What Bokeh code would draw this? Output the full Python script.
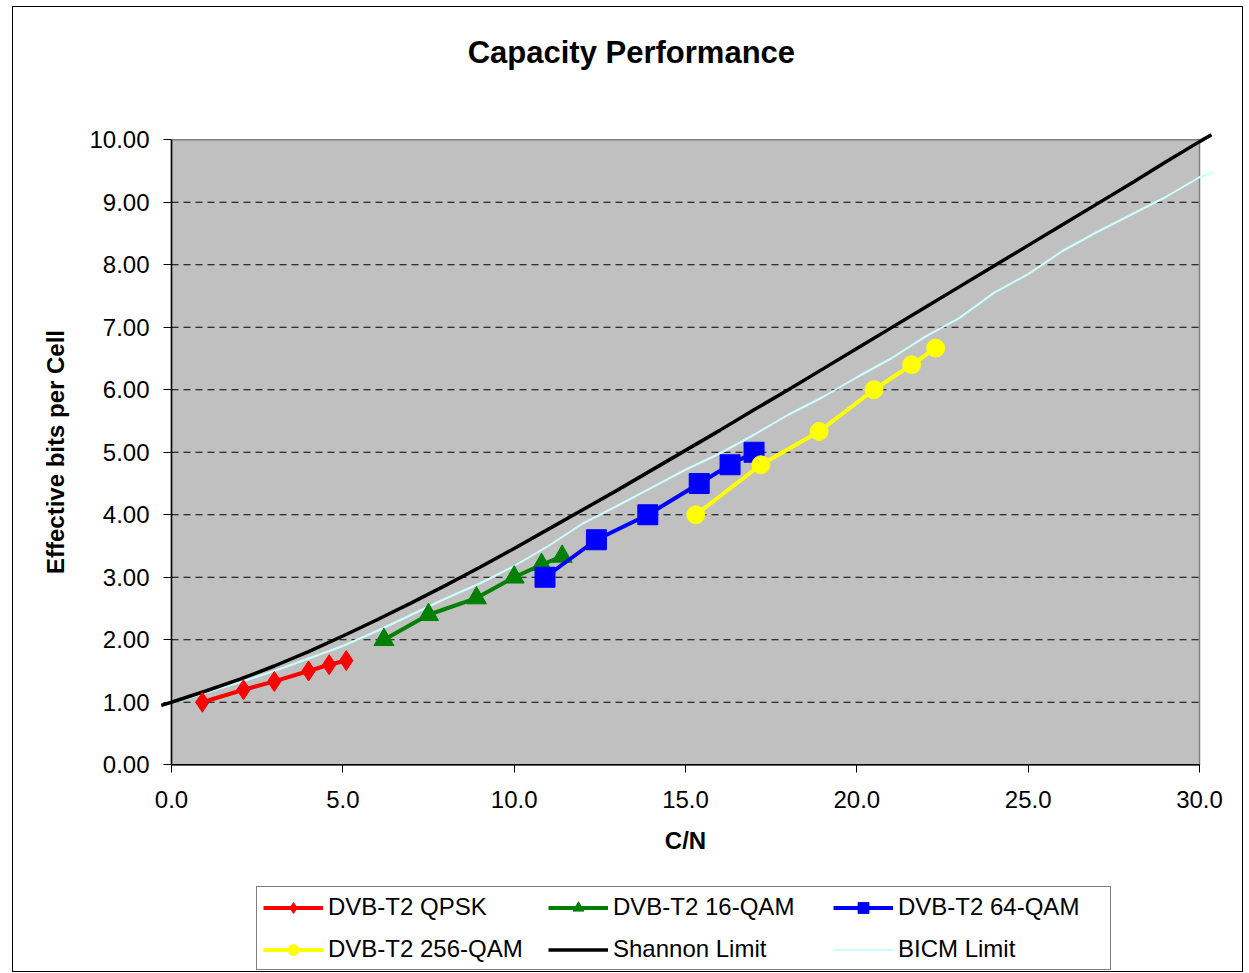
from bokeh.plotting import figure
from bokeh.models import (Range1d, FixedTicker, NumeralTickFormatter, Legend, LegendItem,
                          Label)
from bokeh.embed import file_html
from bokeh.resources import INLINE

TITLE = "Capacity Performance"
X_LABEL = "C/N"
Y_LABEL = "Effective bits per Cell"
X_TICKS = [0, 5, 10, 15, 20, 25, 30]
Y_TICKS = [0, 1, 2, 3, 4, 5, 6, 7, 8, 9, 10]
X_MAX = 30
Y_MAX = 10

# DVB-T2 measured points (C/N in dB, effective bits per cell)
QPSK_CN = [0.9, 2.1, 3.0, 4.0, 4.6, 5.1]
QPSK_BITS = [1.0, 1.2, 1.333, 1.5, 1.6, 1.667]
QAM16_CN = [6.2, 7.5, 8.9, 10.0, 10.8, 11.4]
QAM16_BITS = [2.0, 2.4, 2.667, 3.0, 3.2, 3.333]
QAM64_CN = [10.9, 12.4, 13.9, 15.4, 16.3, 17.0]
QAM64_BITS = [3.0, 3.6, 4.0, 4.5, 4.8, 5.0]
QAM256_CN = [15.3, 17.2, 18.9, 20.5, 21.6, 22.3]
QAM256_BITS = [4.0, 4.8, 5.333, 6.0, 6.4, 6.667]

SHANNON_CN = [-0.3, 0, 1, 2, 3, 4, 5, 6, 7, 8, 9, 10, 11, 12, 13, 14, 15, 16, 17, 18, 19,
              20, 21, 22, 23, 24, 25, 26, 27, 28, 29, 30, 30.35]
SHANNON_BITS = [0.95, 1.00, 1.18, 1.37, 1.58, 1.81, 2.06, 2.32, 2.59, 2.87, 3.16, 3.46,
                3.77, 4.08, 4.39, 4.71, 5.03, 5.35, 5.68, 6.00, 6.33, 6.66,
                6.99, 7.32, 7.65, 7.98, 8.31, 8.64, 8.97, 9.30, 9.64, 9.97, 10.08]
BICM_CN = [-0.3, 0, 1, 2, 3, 4, 5, 6, 7, 8, 9, 10, 11, 12, 13, 14, 15, 16, 17, 18, 19,
           20, 21, 22, 23, 24, 25, 26, 27, 28, 29, 30, 30.4]
BICM_BITS = [0.94, 0.98, 1.15, 1.32, 1.50, 1.70, 1.90, 2.14, 2.40, 2.66, 2.90, 3.18,
             3.50, 3.86, 4.14, 4.43, 4.72, 4.98, 5.28, 5.60, 5.88, 6.20,
             6.50, 6.85, 7.15, 7.55, 7.85, 8.22, 8.52, 8.80, 9.08, 9.40, 9.48]

FONT = "Liberation Sans"

# the frame spans the whole canvas; the plot area (0..30, 0..10) is drawn inside it
p = figure(width=1231, height=966, output_backend="svg", toolbar_location=None,
           x_range=Range1d(-4.611, 31.313), y_range=Range1d(-3.34, 12.116),
           min_border_left=0, min_border_right=0, min_border_top=0,
           min_border_bottom=0)
p.background_fill_color = "white"
p.border_fill_color = "white"
p.outline_line_color = None
p.xgrid.visible = False
p.ygrid.visible = False
p.styles = {"border": "1px solid black", "margin-left": "12px", "margin-top": "6px"}

# plot area
p.quad(left=[0], right=[X_MAX], bottom=[0], top=[Y_MAX],
       fill_color="#C0C0C0", line_color="#808080", line_width=1.5)
grid_y = Y_TICKS[1:-1]
p.segment(x0=[0] * len(grid_y), x1=[X_MAX] * len(grid_y), y0=grid_y, y1=grid_y,
          line_color="black", line_dash="7 5", line_width=1)

# series
r_bicm = p.line(BICM_CN, BICM_BITS, line_color="#CCFFFF", line_width=2)
r_sh = p.line(SHANNON_CN, SHANNON_BITS, line_color="black", line_width=3.5)

r1l = p.line(QPSK_CN, QPSK_BITS, line_color="red", line_width=4)
r1m = p.scatter(QPSK_CN, QPSK_BITS, marker="diamond", size=20,
                fill_color="red", line_color="red")
r2l = p.line(QAM16_CN, QAM16_BITS, line_color="green", line_width=4)
r2m = p.scatter(QAM16_CN, QAM16_BITS, marker="triangle", size=20,
                fill_color="green", line_color="green")
r3l = p.line(QAM64_CN, QAM64_BITS, line_color="blue", line_width=4)
r3m = p.scatter(QAM64_CN, QAM64_BITS, marker="square", size=20,
                fill_color="blue", line_color="blue")
r4l = p.line(QAM256_CN, QAM256_BITS, line_color="yellow", line_width=4)
r4m = p.scatter(QAM256_CN, QAM256_BITS, marker="circle", size=18,
                fill_color="yellow", line_color="yellow")

# axis lines (left and bottom of plot area)
p.segment(x0=[0, 0], y0=[0, 0], x1=[0, X_MAX], y1=[Y_MAX, 0],
          line_color="black", line_width=1.5)

# axes, pinned to the origin of the plot area
for ax in (p.xaxis[0], p.yaxis[0]):
    ax.fixed_location = 0
    ax.axis_line_color = None
    ax.major_tick_in = 0
    ax.major_tick_out = 8
    ax.major_tick_line_color = "black"
    ax.minor_tick_line_color = None
    ax.major_label_text_font = FONT
    ax.major_label_text_font_size = "24px"
    ax.major_label_text_color = "black"
    ax.axis_label_text_font = FONT
    ax.axis_label_text_font_size = "24px"
    ax.axis_label_text_font_style = "bold"
    ax.axis_label_text_color = "black"

p.xaxis.bounds = (0, X_MAX)
p.xaxis.ticker = FixedTicker(ticks=X_TICKS)
p.xaxis.formatter = NumeralTickFormatter(format="0.0")
p.xaxis.axis_label = X_LABEL
p.xaxis.major_label_standoff = 18
p.xaxis.axis_label_standoff = 16
p.yaxis.bounds = (0, Y_MAX)
p.yaxis.ticker = FixedTicker(ticks=Y_TICKS)
p.yaxis.formatter = NumeralTickFormatter(format="0.00")
p.yaxis.axis_label = Y_LABEL
p.yaxis.major_label_standoff = 14
p.yaxis.axis_label_standoff = 17

# title
p.add_layout(Label(x=13.42, y=11.40, text=TITLE, text_align="center",
                   text_baseline="middle", text_font=FONT, text_font_size="31px",
                   text_font_style="bold", text_color="black"))

legend = Legend(items=[
    LegendItem(label="DVB-T2 QPSK", renderers=[r1l, r1m]),
    LegendItem(label="DVB-T2 16-QAM", renderers=[r2l, r2m]),
    LegendItem(label="DVB-T2 64-QAM", renderers=[r3l, r3m]),
    LegendItem(label="DVB-T2 256-QAM", renderers=[r4l, r4m]),
    LegendItem(label="Shannon Limit", renderers=[r_sh]),
    LegendItem(label="BICM Limit", renderers=[r_bicm]),
], location=(243, 3), orientation="horizontal", ncols=3, margin=0)
legend.border_line_color = "black"
legend.border_line_width = 1.5
legend.background_fill_color = "white"
legend.background_fill_alpha = 1.0
legend.padding = 6
legend.spacing = 14
legend.glyph_width = 60
legend.glyph_height = 27
legend.label_width = 206
legend.label_height = 27
legend.label_standoff = 5
legend.label_text_font = FONT
legend.label_text_font_size = "24px"
legend.label_text_color = "black"
p.add_layout(legend)

open("out.html", "w").write(file_html(p, INLINE))
